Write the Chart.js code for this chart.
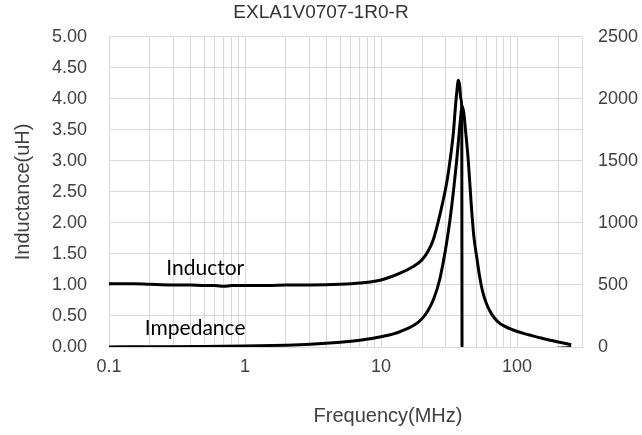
<!DOCTYPE html>
<html>
<head>
<meta charset="utf-8">
<script src="https://cdn.jsdelivr.net/npm/chart.js@4/dist/chart.umd.min.js"></script>
<style>
html,body{margin:0;padding:0;background:#fff;}
#wrap{width:642px;height:435px;}
</style>
</head>
<body>
<div id="wrap"><canvas id="c" width="642" height="435"></canvas></div>
<script>
// ---- data ----
const freqL = [0.1,0.15,0.2,0.3,0.4,0.5,0.6,0.7,0.8,1,1.5,2,3,5,7,10,13.8,17,19.9,22,24.2,27.2,30.4,32.1,34,35,36,37,37.8,38.6,39.2,39.5,40,42,45,50,60,70,85,100,130,160,200,250];
const inductance = [1.02,1.02,1.01,1.00,1.00,0.99,0.99,0.98,0.99,0.99,0.99,1.00,1.00,1.01,1.03,1.08,1.19,1.29,1.40,1.53,1.73,2.15,2.65,3.00,3.45,3.80,4.10,4.30,4.22,4.00,3.85,-3.0,-3.5,-2.0,-1.2,-0.75,-0.40,-0.25,-0.15,-0.10,-0.06,-0.04,-0.02,-0.01];
const freqZ = [0.1,0.2,0.5,1,2,3,5,7,10,13.8,19.9,24.2,27.2,32.1,36,38.6,39.4,40.5,42,43.7,46,48,50.8,53,56,60,65,72,80,93.5,110,130,150,180,210,250];
const impedance = [1,2,4,8,15,22,38,55,83,124,225,379,560,1024,1508,1870,1942,1890,1720,1513,1150,900,704,570,440,340,265,205,170,137,112,90,72,52,36,18];
const xTickValues = [0.1,0.2,0.3,0.4,0.5,0.6,0.7,0.8,0.9,1,2,3,4,5,6,7,8,9,10,20,30,40,50,60,70,80,90,100,200,300];
const xLabelValues = [0.1,1,10,100];
const xLabelTexts = ['0.1','1','10','100'];
const seriesNames = ['Inductor','Impedance'];
const titleText = 'EXLA1V0707-1R0-R';
const xTitle = 'Frequency(MHz)';
const yLeftTitle = 'Inductance(uH)';
// label anchors (data space)
const labelAnchors = [{text:'Inductor', x:0.51, y:1.27},{text:'Impedance', x:0.43, y:0.30}];

const FONT = '"Liberation Sans", Arial, sans-serif';
const TXT = '#404040';
const GRID = '#d9d9d9';

const textPlugin = {
  id:'textPlugin',
  afterDraw(chart){
    const ctx = chart.ctx;
    const xs = chart.scales.x, yl = chart.scales.yL;
    ctx.save();
    ctx.fillStyle = '#000';
    ctx.font = '21px Lato, "Open Sans", sans-serif';
    ctx.textAlign = 'center';
    ctx.textBaseline = 'middle';
    labelAnchors.forEach(a=>{
      ctx.fillText(a.text, xs.getPixelForValue(a.x), yl.getPixelForValue(a.y));
    });
    ctx.fillStyle = TXT;
    ctx.font = '20px ' + FONT;
    ctx.fillText(xTitle, 388, 416);
    ctx.restore();
  }
};

new Chart(document.getElementById('c'), {
  type:'line',
  data:{
    datasets:[
      {label:seriesNames[0], data:freqL.map((f,i)=>({x:f,y:inductance[i]})), yAxisID:'yL',
       borderColor:'#000', borderWidth:3, pointRadius:0, cubicInterpolationMode:'monotone', fill:false},
      {label:seriesNames[1], data:freqZ.map((f,i)=>({x:f,y:impedance[i]})), yAxisID:'yR',
       borderColor:'#000', borderWidth:3, pointRadius:0, cubicInterpolationMode:'monotone', fill:false}
    ]
  },
  options:{
    responsive:false,
    animation:false,
    layout:{padding:{left:0,right:0,top:0,bottom:0}},
    plugins:{
      legend:{display:false},
      tooltip:{enabled:false},
      title:{display:true, text:titleText, color:'#333', font:{family:FONT,size:19,weight:'normal'}, padding:{top:1,bottom:13}}
    },
    scales:{
      x:{
        type:'logarithmic', min:0.1, max:300,
        afterBuildTicks(s){ s.ticks = xTickValues.map(v=>({value:v})); },
        afterFit(s){ s.height = 88; },
        ticks:{
          autoSkip:false, maxRotation:0, color:TXT, font:{family:FONT,size:18}, padding:9,
          callback(v){ const i = xLabelValues.findIndex(t=>Math.abs(t-v)/t<1e-6); return i>=0 ? xLabelTexts[i] : ''; }
        },
        grid:{color:GRID, lineWidth:1, drawTicks:false},
        border:{color:GRID}
      },
      yL:{
        position:'left', min:0, max:5,
        afterFit(s){ s.width = 109; },
        ticks:{stepSize:0.5, color:TXT, font:{family:FONT,size:18}, padding:22, callback(v){return Number(v).toFixed(2);}},
        grid:{color:GRID, lineWidth:1, drawTicks:false},
        border:{color:GRID},
        title:{display:true, text:yLeftTitle, color:TXT, font:{family:FONT,size:20}, padding:{top:11,bottom:0}}
      },
      yR:{
        position:'right', min:0, max:2500,
        afterFit(s){ s.width = 60; },
        ticks:{stepSize:500, color:TXT, font:{family:FONT,size:18}, padding:16, callback(v){return String(Math.round(v));}},
        grid:{display:false, drawTicks:false},
        border:{display:false}
      }
    }
  },
  plugins:[textPlugin]
});
</script>
</body>
</html>
